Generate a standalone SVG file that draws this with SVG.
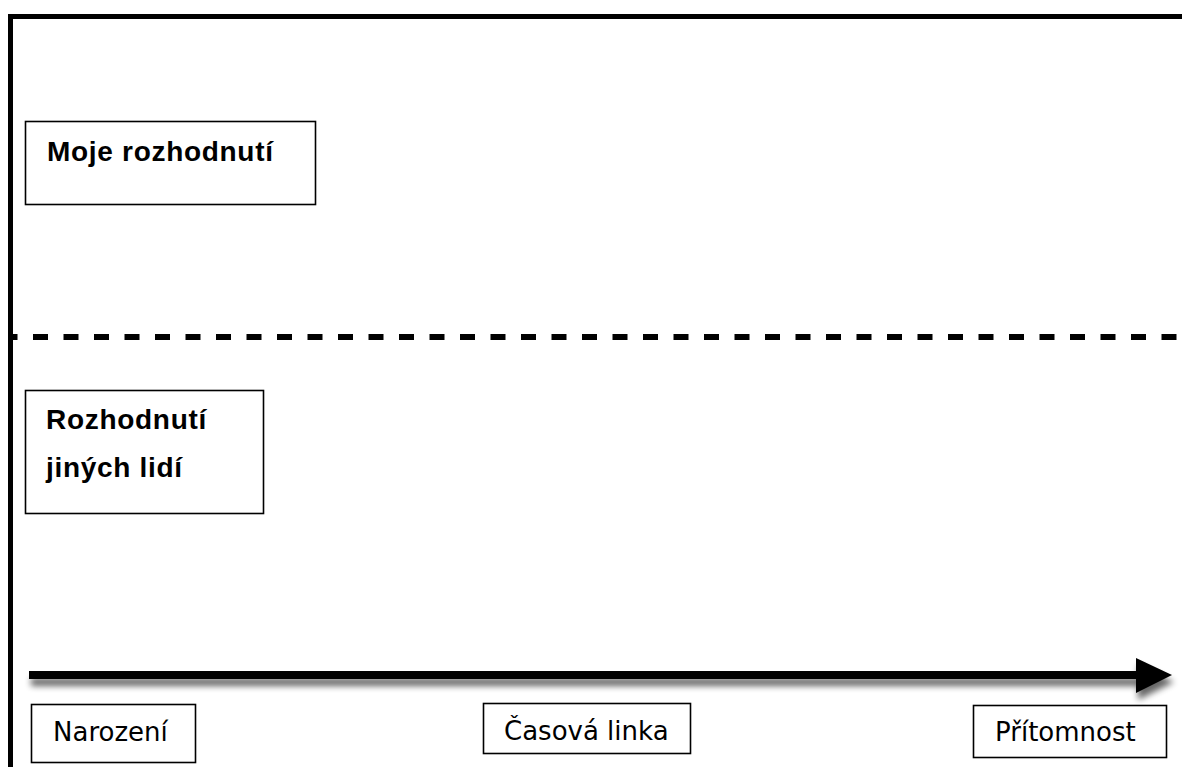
<svg xmlns="http://www.w3.org/2000/svg" width="1182" height="767" viewBox="0 0 1182 767">
  <style>
    .box { fill: #ffffff; stroke: #000000; stroke-width: 1.6; }
    .bold { font-family: "Liberation Sans", Arial, sans-serif; font-weight: bold; font-size: 28px; letter-spacing: 0.7px; fill: #000; }
    .reg { font-family: "DejaVu Sans", "Noto Sans", sans-serif; font-size: 26px; fill: #000; }
    .frame { stroke: #000; stroke-width: 5; fill: none; }
  </style>
  <defs>
    <filter id="shadow" x="-5%" y="-100%" width="110%" height="400%">
      <feGaussianBlur in="SourceAlpha" stdDeviation="3"/>
      <feOffset dx="2" dy="7" result="b"/>
      <feComponentTransfer><feFuncA type="linear" slope="0.6"/></feComponentTransfer>
      <feMerge><feMergeNode/><feMergeNode in="SourceGraphic"/></feMerge>
    </filter>
  </defs>
  <rect width="1182" height="767" fill="#ffffff"/>
  <g id="frame">
    <path class="frame" d="M10.5 767 V16.5 H1182"/>
    <line x1="10" y1="337" x2="1182" y2="337" stroke="#000" stroke-width="6" stroke-dasharray="15 15.5" stroke-dashoffset="7.5"/>
  </g>
  <g id="connectors">
    <g filter="url(#shadow)">
      <line x1="29" y1="675" x2="1140" y2="675" stroke="#000" stroke-width="8"/>
      <polygon points="1136,658 1172,675 1136,693" fill="#000"/>
    </g>
  </g>
  <g id="node-moje">
    <rect class="box" x="25.5" y="121.5" width="290" height="83"/>
    <text class="bold" x="47" y="161">Moje rozhodnutí</text>
  </g>
  <g id="node-jinych">
    <rect class="box" x="25.5" y="390.5" width="238" height="123"/>
    <text class="bold" x="46" y="429">Rozhodnutí</text>
    <text class="bold" x="46" y="477">jiných lidí</text>
  </g>
  <g id="node-narozeni">
    <rect class="box" x="31.5" y="704.5" width="164" height="58"/>
    <text class="reg" x="53" y="741">Narození</text>
  </g>
  <g id="node-casova">
    <rect class="box" x="483.5" y="703.5" width="207" height="50"/>
    <text class="reg" x="504" y="740">Časová linka</text>
  </g>
  <g id="node-pritomnost">
    <rect class="box" x="973.5" y="705.5" width="193" height="52"/>
    <text class="reg" x="995" y="741">Přítomnost</text>
  </g>
</svg>
